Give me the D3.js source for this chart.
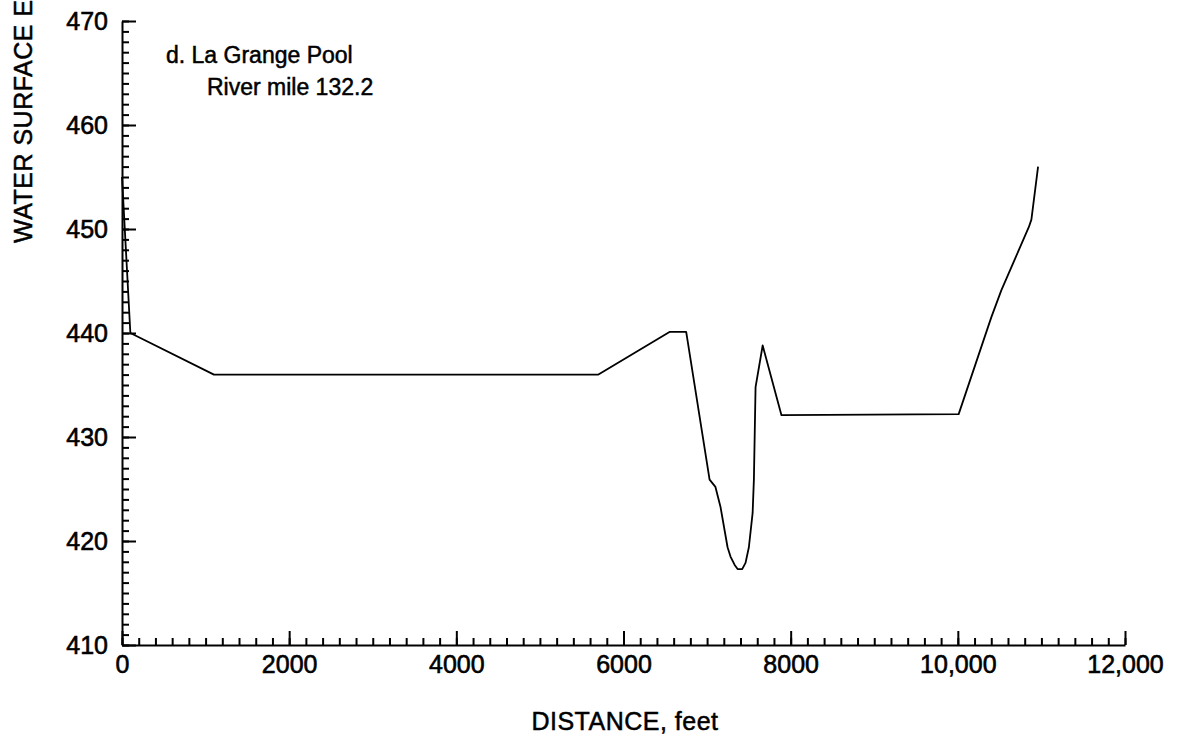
<!DOCTYPE html>
<html>
<head>
<script src="https://d3js.org/d3.v7.min.js"></script>
<style>
  body { margin: 0; background: #fff; font-family: "Liberation Sans", Arial, sans-serif; }
  .axis path, .axis line { stroke: #000; stroke-width: 2; }
  .axis text { font-family: "Liberation Sans", Arial, sans-serif; font-size: 25px; fill: #000; stroke: #000; stroke-width: 0.6px; }
  .lbl { fill: #000; stroke: #000; stroke-width: 0.5px; }
</style>
</head>
<body>
<svg id="chart" width="1177" height="736"></svg>
<script>
// distance along the section (feet) and water surface elevation (feet)
var distance  = [0, 100, 1100, 5700, 6550, 6750, 7030, 7100, 7160, 7245, 7280, 7330, 7365, 7420, 7460, 7500, 7545, 7560, 7580, 7665, 7890, 10010, 10400, 10520, 10850, 10880, 10960];
var elevation = [455, 440, 436, 436, 440.1, 440.1, 425.9, 425.2, 423.3, 419.4, 418.5, 417.7, 417.3, 417.3, 417.9, 419.4, 422.7, 425.9, 434.8, 438.8, 432.1, 432.2, 441.5, 444.1, 450.2, 450.9, 456];

var xMajor = [0, 2000, 4000, 6000, 8000, 10000, 12000];
var yMajor = [410, 420, 430, 440, 450, 460, 470];

var svg = d3.select("#chart");
var x = d3.scaleLinear().domain([0, 12000]).range([122, 1125]);
var y = d3.scaleLinear().domain([410, 470]).range([645, 21]);

// x axis: minor ticks every 200 ft, major every 2000 ft, all pointing up
svg.append("g").attr("class", "axis")
  .attr("transform", "translate(0,645)")
  .call(d3.axisBottom(x).tickValues(d3.range(0, 12001, 200)).tickSize(-7).tickSizeOuter(0).tickFormat(""));
svg.append("g").attr("class", "axis")
  .attr("transform", "translate(0,645)")
  .call(d3.axisBottom(x).tickValues(xMajor).tickSize(-14).tickSizeOuter(0).tickPadding(10)
    .tickFormat(function(d) { return d >= 10000 ? d3.format(",")(d) : String(d); }))
  .call(function(g) { g.select(".domain").remove(); });

// y axis: minor ticks every foot, major every 10 ft, pointing right
svg.append("g").attr("class", "axis")
  .attr("transform", "translate(122,0)")
  .call(d3.axisLeft(y).tickValues(d3.range(410, 471, 1)).tickSize(-7).tickSizeOuter(0).tickFormat(""));
svg.append("g").attr("class", "axis")
  .attr("transform", "translate(122,0)")
  .call(d3.axisLeft(y).tickValues(yMajor).tickSize(-14).tickSizeOuter(0).tickPadding(14))
  .call(function(g) { g.select(".domain").remove(); });

// profile line
var line = d3.line().x(function(d, i) { return x(distance[i]); }).y(function(d, i) { return y(elevation[i]); });
svg.append("path")
  .datum(distance)
  .attr("d", line)
  .attr("fill", "none")
  .attr("stroke", "#000")
  .attr("stroke-width", 1.8)
  .attr("stroke-linejoin", "round");

// labels
svg.append("text").attr("class", "lbl")
  .attr("x", 625).attr("y", 730)
  .attr("text-anchor", "middle")
  .style("font-size", "25px")
  .style("letter-spacing", "0.5px")
  .text("DISTANCE, feet");

svg.append("text").attr("class", "lbl")
  .attr("transform", "translate(32,243) rotate(-90)")
  .style("font-size", "25px")
  .style("letter-spacing", "0.5px")
  .text("WATER SURFACE ELEVATION, feet");

svg.append("text").attr("class", "lbl")
  .attr("x", 166).attr("y", 63)
  .style("font-size", "23px")
  .text("d.  La Grange Pool");
svg.append("text").attr("class", "lbl")
  .attr("x", 207).attr("y", 95)
  .style("font-size", "23px")
  .text("River mile 132.2");
</script>
</body>
</html>
